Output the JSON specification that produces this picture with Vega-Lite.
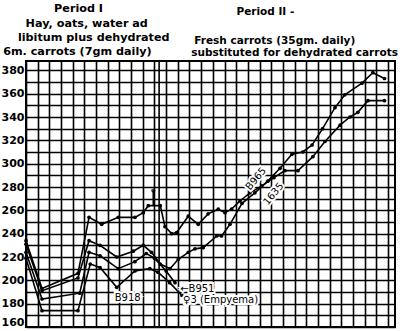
{
  "$schema": "https://vega.github.io/schema/vega-lite/v6.json",
  "width": 369,
  "height": 266,
  "autosize": {"type": "none"},
  "padding": {"left": 26, "top": 61, "right": 5, "bottom": 4},
  "background": "white",
  "config": {
    "view": {"stroke": "black", "strokeWidth": 2},
    "axis": {"gridColor": "black", "gridOpacity": 1, "gridWidth": 1.6, "domain": false, "ticks": false, "title": null, "labelOverlap": false}
  },
  "datasets": {
    "series": [
      {"s": "A", "u": 0, "v": 234}, {"s": "A", "u": 1.37, "v": 193}, {"s": "A", "u": 4.45, "v": 206}, {"s": "A", "u": 5.4, "v": 254},
      {"s": "A", "u": 6.48, "v": 248}, {"s": "A", "u": 7.9, "v": 254}, {"s": "A", "u": 9.33, "v": 254}, {"s": "A", "u": 10.04, "v": 258},
      {"s": "A", "u": 10.47, "v": 264}, {"s": "A", "u": 11.5, "v": 264}, {"s": "A", "u": 11.9, "v": 246}, {"s": "A", "u": 12.47, "v": 240},
      {"s": "A", "u": 12.9, "v": 241}, {"s": "A", "u": 13.9, "v": 255}, {"s": "A", "u": 14.75, "v": 248}, {"s": "A", "u": 15.6, "v": 257},
      {"s": "A", "u": 16.46, "v": 261}, {"s": "A", "u": 17.04, "v": 258}, {"s": "A", "u": 17.6, "v": 261}, {"s": "A", "u": 18.32, "v": 268},
      {"s": "A", "u": 19.18, "v": 275}, {"s": "A", "u": 20.2, "v": 281}, {"s": "A", "u": 21.23, "v": 288}, {"s": "A", "u": 22.17, "v": 294},
      {"s": "A", "u": 23.29, "v": 294}, {"s": "A", "u": 24.57, "v": 306}, {"s": "A", "u": 25.6, "v": 319}, {"s": "A", "u": 26.9, "v": 333},
      {"s": "A", "u": 27.74, "v": 340}, {"s": "A", "u": 28.42, "v": 344}, {"s": "A", "u": 29.28, "v": 354}, {"s": "A", "u": 30.7, "v": 354},
      {"s": "B", "u": 0, "v": 231}, {"s": "B", "u": 1.37, "v": 191}, {"s": "B", "u": 4.45, "v": 202}, {"s": "B", "u": 5.4, "v": 234},
      {"s": "B", "u": 6.34, "v": 230}, {"s": "B", "u": 7.77, "v": 220}, {"s": "B", "u": 9.19, "v": 225}, {"s": "B", "u": 10.04, "v": 230},
      {"s": "B", "u": 10.75, "v": 224}, {"s": "B", "u": 11.5, "v": 214}, {"s": "B", "u": 12.33, "v": 210}, {"s": "B", "u": 13.04, "v": 218},
      {"s": "B", "u": 13.9, "v": 224}, {"s": "B", "u": 14.47, "v": 227}, {"s": "B", "u": 15.18, "v": 228}, {"s": "B", "u": 16.33, "v": 238},
      {"s": "B", "u": 16.75, "v": 238}, {"s": "B", "u": 17.47, "v": 248}, {"s": "B", "u": 18.5, "v": 266}, {"s": "B", "u": 19.6, "v": 275},
      {"s": "B", "u": 20.7, "v": 285}, {"s": "B", "u": 21.75, "v": 296}, {"s": "B", "u": 22.77, "v": 308}, {"s": "B", "u": 23.7, "v": 310},
      {"s": "B", "u": 24.5, "v": 316}, {"s": "B", "u": 25.4, "v": 330}, {"s": "B", "u": 26.46, "v": 348}, {"s": "B", "u": 27.3, "v": 359},
      {"s": "B", "u": 28.77, "v": 369}, {"s": "B", "u": 29.7, "v": 378}, {"s": "B", "u": 30.7, "v": 373},
      {"s": "C", "u": 0, "v": 224}, {"s": "C", "u": 1.37, "v": 184}, {"s": "C", "u": 4.6, "v": 189}, {"s": "C", "u": 5.4, "v": 224},
      {"s": "C", "u": 6.34, "v": 221}, {"s": "C", "u": 7.9, "v": 210}, {"s": "C", "u": 9.33, "v": 216}, {"s": "C", "u": 10.3, "v": 223},
      {"s": "C", "u": 11.0, "v": 219}, {"s": "C", "u": 12.0, "v": 208}, {"s": "C", "u": 12.76, "v": 198},
      {"s": "D", "u": 0, "v": 219}, {"s": "D", "u": 1.37, "v": 174}, {"s": "D", "u": 4.45, "v": 174}, {"s": "D", "u": 5.5, "v": 214},
      {"s": "D", "u": 6.34, "v": 211}, {"s": "D", "u": 7.77, "v": 194}, {"s": "D", "u": 9.33, "v": 208}, {"s": "D", "u": 10.6, "v": 210},
      {"s": "D", "u": 11.3, "v": 207}, {"s": "D", "u": 12.3, "v": 198}, {"s": "D", "u": 13.36, "v": 187}
    ],
    "header": [
      {"t": "Period I", "u": 4.5, "v": 433, "w": "a"},
      {"t": "Hay, oats, water ad", "u": 5.2, "v": 420, "w": "a"},
      {"t": "libitum plus dehydrated", "u": 5.8, "v": 407.5, "w": "a"},
      {"t": "6m. carrots (7gm daily)", "u": 4.4, "v": 395.5, "w": "a"},
      {"t": "Period II -", "u": 20.5, "v": 430, "w": "b"},
      {"t": "Fresh carrots (35gm. daily)", "u": 21.3, "v": 405, "w": "b"},
      {"t": "substituted for dehydrated carrots", "u": 23.0, "v": 394.5, "w": "b"}
    ],
    "labels": [
      {"t": "B918", "u": 7.6, "v": 184.5},
      {"t": "←B951", "u": 13.2, "v": 193},
      {"t": "♀3 (Empyema)", "u": 13.45, "v": 183.5}
    ],
    "rotated": [
      {"t": "B965", "u": 19.7, "v": 287},
      {"t": "1635", "u": 21.2, "v": 274}
    ],
    "divider": [{"u": 11.4, "v": 160, "v2": 388}],
    "spike": [{"u": 10.9, "v": 277, "v2": 264}]
  },
  "encoding": {
    "x": {"field": "u", "type": "quantitative", "scale": {"domain": [0, 31.6], "nice": false, "zero": false},
      "axis": {"values": [0,1,2,3,4,5,6,7,8,9,10,11,12,13,14,15,16,17,18,19,20,21,22,23,24,25,26,27,28,29,30,31], "labels": false, "grid": true}},
    "y": {"field": "v", "type": "quantitative", "scale": {"domain": [160, 388], "nice": false, "zero": false},
      "axis": {"values": [160,170,180,190,200,210,220,230,240,250,260,270,280,290,300,310,320,330,340,350,360,370,380],
        "labelExpr": "datum.value % 20 == 0 ? datum.label : ''", "labelFont": "DejaVu Sans", "labelFontWeight": "bold",
        "labelFontSize": 11, "labelColor": "black", "labelPadding": 2, "labelFlush": true, "labelFlushOffset": 0, "grid": true}}
  },
  "layer": [
    {
      "data": {"name": "divider"},
      "mark": {"type": "rule", "color": "black", "strokeWidth": 1.6},
      "encoding": {"y2": {"field": "v2"}}
    },
    {
      "data": {"name": "series"},
      "mark": {"type": "line", "color": "black", "strokeWidth": 1.6, "point": {"filled": true, "size": 14, "color": "black"}},
      "encoding": {"detail": {"field": "s"}}
    },
    {
      "data": {"name": "spike"},
      "mark": {"type": "rule", "color": "black", "strokeWidth": 1.6},
      "encoding": {"y2": {"field": "v2"}}
    },
    {
      "data": {"name": "spike"},
      "mark": {"type": "point", "filled": true, "size": 18, "color": "black"},
      "encoding": {}
    },
    {
      "data": {"name": "header"},
      "mark": {"type": "text", "font": "DejaVu Sans", "fontWeight": "bold", "color": "black", "align": "center", "baseline": "middle"},
      "encoding": {"text": {"field": "t"}, "size": {"field": "w", "type": "nominal", "scale": {"domain": ["a", "b"], "range": [11.2, 10.5]}, "legend": null}}
    },
    {
      "data": {"name": "labels"},
      "mark": {"type": "text", "font": "DejaVu Sans", "fontSize": 10, "fill": "white", "stroke": "white", "strokeWidth": 4, "align": "left", "baseline": "middle"},
      "encoding": {"text": {"field": "t"}}
    },
    {
      "data": {"name": "labels"},
      "mark": {"type": "text", "font": "DejaVu Sans", "fontSize": 10, "color": "black", "align": "left", "baseline": "middle"},
      "encoding": {"text": {"field": "t"}}
    },
    {
      "data": {"name": "rotated"},
      "mark": {"type": "text", "font": "DejaVu Sans", "fontSize": 10, "fill": "white", "stroke": "white", "strokeWidth": 4, "align": "center", "baseline": "middle", "angle": 310},
      "encoding": {"text": {"field": "t"}}
    },
    {
      "data": {"name": "rotated"},
      "mark": {"type": "text", "font": "DejaVu Sans", "fontSize": 10, "color": "black", "align": "center", "baseline": "middle", "angle": 310},
      "encoding": {"text": {"field": "t"}}
    }
  ]
}
